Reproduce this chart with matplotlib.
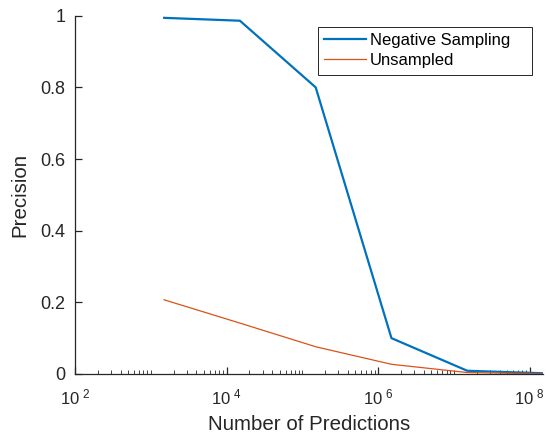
import numpy as np
import matplotlib
matplotlib.use('Agg')
import matplotlib.pyplot as plt
from matplotlib.ticker import LogLocator, FuncFormatter, NullFormatter

plt.rcParams['font.family'] = ['Liberation Sans', 'DejaVu Sans']
plt.rcParams['mathtext.fontset'] = 'custom'
plt.rcParams['mathtext.rm'] = 'Liberation Sans'

# number of predictions
n_pred = [1.5e3, 1.5e4, 1.5e5, 1.5e6, 1.5e7, 1.5e8]
neg_sampling = [0.994, 0.986, 0.800, 0.100, 0.009, 0.002]
unsampled = [0.207, 0.142, 0.076, 0.027, 0.004, 0.0005]
y_ticks = [0, 0.2, 0.4, 0.6, 0.8, 1]

dark = '#262626'

fig = plt.figure(figsize=(5.46, 4.41), dpi=100)
ax = fig.add_axes([0.1374, 0.152, 0.8571, 0.8124])

ax.plot(n_pred, neg_sampling, color='#0072BD', lw=1.6, label='Negative Sampling')
ax.plot(n_pred, unsampled, color='#D95319', lw=0.9, label='Unsampled')

ax.set_xscale('log')
ax.set_xlim(1e2, n_pred[-1])
ax.set_ylim(0, 1)

ax.xaxis.set_major_locator(LogLocator(base=100, numticks=10))
ax.xaxis.set_minor_locator(LogLocator(base=10, subs=np.arange(1, 10), numticks=50))
ax.xaxis.set_major_formatter(FuncFormatter(
  lambda v, p: r'$\mathregular{10^{\ %d}}$' % round(np.log10(v))))
ax.xaxis.set_minor_formatter(NullFormatter())

ax.set_yticks(y_ticks)
ax.set_yticklabels(['0', '0.2', '0.4', '0.6', '0.8', '1'])

for s in ('top', 'right'):
  ax.spines[s].set_visible(False)
for s in ('left', 'bottom'):
  ax.spines[s].set_color(dark)
  ax.spines[s].set_linewidth(0.9)

ax.tick_params(which='both', direction='in', colors=dark)
ax.tick_params(which='major', length=5, width=0.9)
ax.tick_params(which='minor', length=3, width=0.6)
ax.tick_params(axis='x', pad=10, labelsize=12)
ax.tick_params(axis='y', pad=7, labelsize=13)

ax.set_xlabel('Number of Predictions', fontsize=14.8, color=dark, labelpad=5)
ax.set_ylabel('Precision', fontsize=14.8, color=dark, labelpad=8)

leg = ax.legend(loc='upper left', bbox_to_anchor=(0.519, 0.9685, 0.457, 0.0),
                mode='expand', fontsize=12,
                fancybox=False, framealpha=1, edgecolor=dark, borderaxespad=0,
                handlelength=2.5, handletextpad=0.25, labelspacing=0.3,
                borderpad=0.38)
leg.get_frame().set_linewidth(0.7)

fig.savefig('out.png', dpi=100)
